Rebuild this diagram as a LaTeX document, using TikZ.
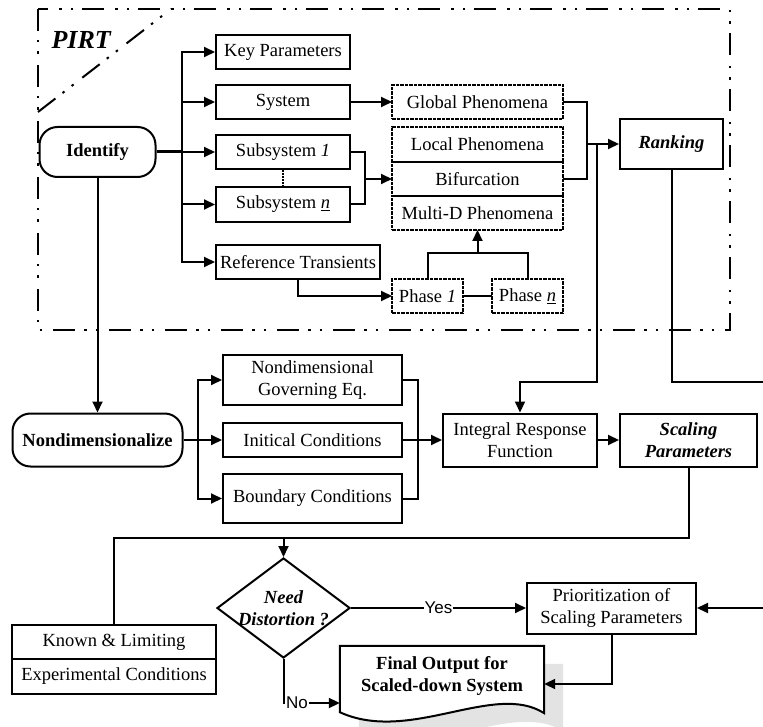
\documentclass[tikz,border=0pt]{standalone}
\usepackage{fontspec}
\setmainfont{Liberation Serif}
\setsansfont{Liberation Sans}
\usepackage{tikz}
\usetikzlibrary{shapes.geometric, arrows.meta, positioning, calc, backgrounds}

\newcommand{\boxfs}{\fontsize{18.5}{22}\selectfont}
\newcommand{\tagfs}{\fontsize{17}{20}\sffamily\selectfont}
% outline of the output document (needs node fin)
\newcommand{\docpath}{(fin.north west) -- (fin.north east) -- ([yshift=-7pt]fin.south east)
  .. controls +(-50,-32) and +(70,32) .. ([yshift=-6pt]fin.south west) -- cycle}

\begin{document}
\begin{tikzpicture}[
  x=1pt, y=-1pt,
  % ── Style definitions ──
  blk/.style={
    rectangle, draw=black, line width=2pt,
    minimum width=134pt, minimum height=34pt,
    inner sep=1pt, align=center, font=\boxfs
  },
  phen/.style ={blk, line width=2.2pt, dash pattern=on 3.5pt off 1pt, minimum width=171pt, outer sep=0pt},
  term/.style ={blk, rounded corners=18pt, minimum height=50pt, font=\boxfs\bfseries},
  emph/.style ={blk, font=\boxfs\bfseries\itshape},
  decide/.style={diamond, draw=black, line width=2pt,
    minimum width=133pt, minimum height=100pt, inner sep=0pt},
  wire/.style ={line width=2pt},
  arr/.style  ={wire, -{Triangle[length=11pt,width=10pt]}},
  tag/.style  ={fill=white, inner sep=1pt, font=\tagfs},
  pirt/.style ={line width=2pt,
    dash pattern=on 22pt off 9pt on 2.5pt off 9pt on 2.5pt off 11pt},
  % ── Node placement ──
  node distance=0pt
]
\useasboundingbox (0,0) rectangle (763,727);

% ─────────── PIRT frame ──────────────────────────────────────
\coordinate (pNW) at (38,9);
\coordinate (pSE) at (730,330);
\draw[pirt] (pNW) rectangle (pSE);
\draw[pirt] (38,112) -- (171,9);
\node[font=\fontsize{26}{28}\selectfont\bfseries\itshape, anchor=west] (ptag) at (48,40) {PIRT};

% ─────────── Identify branch ─────────────────────────────────
\node[term, minimum width=116pt] (ident) at (97.5,152) {Identify};
\node[blk]                         (keyp) at (283,52)    {Key Parameters};
\node[blk]                         (sys)  at (283,102)   {System};
\node[blk]                         (sub1) at (283,152)   {Subsystem \textit{1}};
\node[blk, minimum height=35pt]    (subn) at (283,204.5) {Subsystem \underline{\textit{n}}};
\node[blk, minimum width=164pt]    (ref)  at (298,262)   {Reference Transients};

% ─────────── Phenomena and phases ────────────────────────────
\node[phen]                        (glob) at (477.5,102)   {Global Phenomena};
\node[phen, minimum height=35pt]   (loc)  at (477.5,144.5) {Local Phenomena};
\node[phen, below=0pt of loc]      (bif)  {Bifurcation};
\node[phen, below=0pt of bif]      (mdp)  {Multi-D Phenomena};
\node[phen, minimum width=71pt]    (ph1)  at (427.5,296) {Phase \textit{1}};
\node[phen, minimum width=71pt]    (phn)  at (527.5,296) {Phase \underline{\textit{n}}};
\node[emph, minimum width=103pt, minimum height=50pt] (rank) at (671.5,144) {Ranking};

% ─────────── Nondimensionalize branch ────────────────────────
\node[term, minimum width=170pt, minimum height=53pt] (nondim) at (97.5,440) {Nondimensionalize};
\node[blk, minimum width=179pt, minimum height=50pt] (gov)   at (312.5,380)   {Nondimensional\\Governing Eq.};
\node[blk, minimum width=179pt]                      (ini)   at (312.5,440)   {Initical Conditions};
\node[blk, minimum width=179pt, minimum height=49pt] (bnd)   at (312.5,498.5) {Boundary Conditions};
\node[blk, minimum width=154pt, minimum height=53pt] (integ) at (520,440)     {Integral Response\\Function};
\node[emph, minimum width=137pt, minimum height=53pt] (scal) at (688.5,440)   {Scaling\\Parameters};

% ─────────── Decision row ────────────────────────────────────
\node[decide, label={[font=\boxfs\bfseries\itshape, align=center]center:Need\\Distortion ?}]
  (dist) at (283.5,608) {};
\node[blk, minimum width=204pt, outer sep=0pt] (known) at (114,642) {Known \& Limiting};
\node[blk, minimum width=204pt, minimum height=35pt, outer sep=0pt, below=0pt of known]
  (exper) {Experimental Conditions};
\node[blk, minimum width=169pt, minimum height=51pt] (prio) at (611.5,608) {Prioritization of\\Scaling Parameters};
\node[font=\boxfs\bfseries, minimum width=204pt, minimum height=60pt, align=center, inner sep=0pt]
  (fin) at (442,676) {Final Output for\\Scaled-down System};

% output document with its shadow
\begin{scope}[on background layer]
  \fill[gray!22, transform canvas={shift={(19,18)}}] \docpath;
  \draw[wire, fill=white] \docpath;
\end{scope}

% ─────────── Identify connections ────────────────────────────
\coordinate (jI) at (182,152);
\draw[wire, line width=3pt] (ident) -- (jI);
\foreach \t in {keyp,sys,sub1,subn,ref}
  \draw[arr] (jI) |- (\t.west);
\draw[wire, densely dotted] (sub1) -- (subn);
\draw[arr] (sys) -- (glob);
\coordinate (jS) at (365,179);
\draw[wire] (sub1.east) -| (jS) |- (subn.east);
\draw[arr] (jS) -- (bif);
\coordinate (jP) at (587,144);
\draw[wire] (glob.east) -| (jP) |- (bif.east);
\draw[arr] (jP) -- (rank);
\draw[arr] (ref.south) |- (ph1.west);
\draw[wire] (ph1) -- (phn);
\coordinate (jF) at (477.5,253);
\draw[wire] (ph1.north) |- (jF) -| (phn.north);
\draw[arr] (jF) -- (mdp.south);

% ranking feeds the response function and the prioritization
\coordinate (jR)  at (597,144);
\coordinate (jRb) at (597,382);
\draw[arr] (jR) -- (jRb) -| (integ.north);
\coordinate (rside) at (770,382);
\draw[arr] (rank.south) |- (rside) |- (prio.east);

% ─────────── Nondimensionalize connections ───────────────────
\draw[arr] (ident) -- (nondim);
\coordinate (jN) at (198,440);
\draw[wire] (nondim) -- (jN);
\foreach \t in {gov,ini,bnd}
  \draw[arr] (jN) |- (\t.west);
\coordinate (jC) at (418,440);
\draw[wire] (gov.east) -| (jC) |- (bnd.east);
\draw[arr] (ini) -- (integ);
\draw[arr] (integ) -- (scal);

% ─────────── Decision connections ────────────────────────────
\coordinate (jD) at (283.5,538);
\draw[wire] (scal.south) |- (jD) -| (known.north);
\draw[arr] (jD) -- (dist);
\draw[arr] (dist) -- node[tag] {Yes} (prio);
\draw[arr] (dist.south) |- node[tag, pos=0.62] {No} ([yshift=-27pt]fin.west);
\draw[arr] (prio.south) |- ([yshift=-8pt]fin.east);
\end{tikzpicture}
\end{document}
